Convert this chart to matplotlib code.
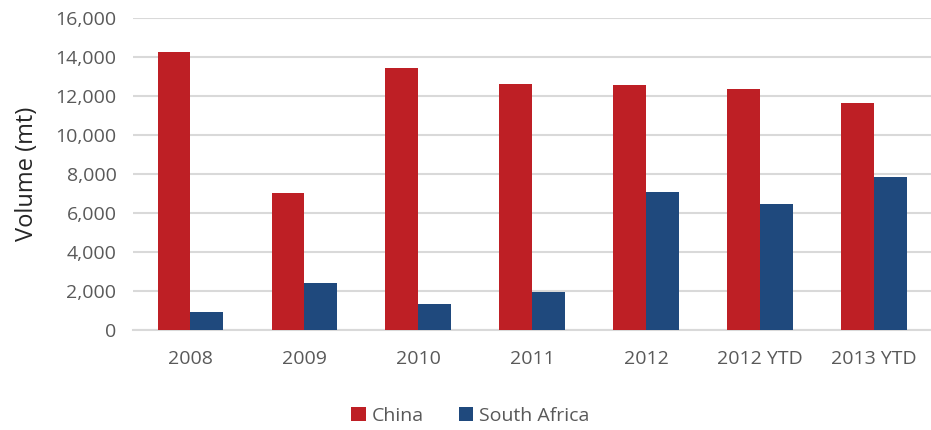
import matplotlib.pyplot as plt
import numpy as np
from matplotlib.ticker import FuncFormatter

categories = ["2008", "2009", "2010", "2011", "2012", "2012 YTD", "2013 YTD"]
china = [14220, 7025, 13420, 12600, 12570, 12330, 11615]
south_africa = [936, 2420, 1346, 1960, 7076, 6478, 7828]

red = "#BE1F25"
blue = "#1F497D"
grey_text = "#595959"

plt.rcParams["font.family"] = ["Open Sans", "DejaVu Sans"]

fig = plt.figure(figsize=(9.31, 4.30), dpi=100)
ax = fig.add_axes([0.143, 0.232, 0.857, 0.727])

x = np.arange(len(categories))
w = 0.286
ax.bar(x - w / 2, china, w, color=red, label="China", zorder=3)
ax.bar(x + w / 2, south_africa, w, color=blue, label="South Africa", zorder=3)

ax.set_xlim(-0.5, len(categories) - 0.5)
ax.set_ylim(0, 16000)
ax.set_yticks(range(0, 16001, 2000))
ax.yaxis.set_major_formatter(FuncFormatter(lambda v, p: f"{int(v):,}"))
ax.set_xticks(x)
ax.set_xticklabels(categories)

ax.grid(axis="y", color="#D9D9D9", linewidth=1.5, zorder=0)
for s in ["top", "right", "left"]:
    ax.spines[s].set_visible(False)
ax.spines["bottom"].set_color("#D9D9D9")
ax.spines["bottom"].set_linewidth(1.5)
ax.tick_params(axis="both", length=0, labelsize=14, colors=grey_text)
ax.tick_params(axis="x", pad=14)
ax.tick_params(axis="y", pad=12)

ax.set_ylabel("Volume (mt)", fontsize=17, color="#262626", labelpad=12)

fig.legend(loc="lower center", bbox_to_anchor=(0.505, -0.028), ncol=2, frameon=False,
           fontsize=14, labelcolor=grey_text, handlelength=0.75, handleheight=0.75,
           handletextpad=0.3, columnspacing=1.8)

fig.savefig("out.png", dpi=100)
